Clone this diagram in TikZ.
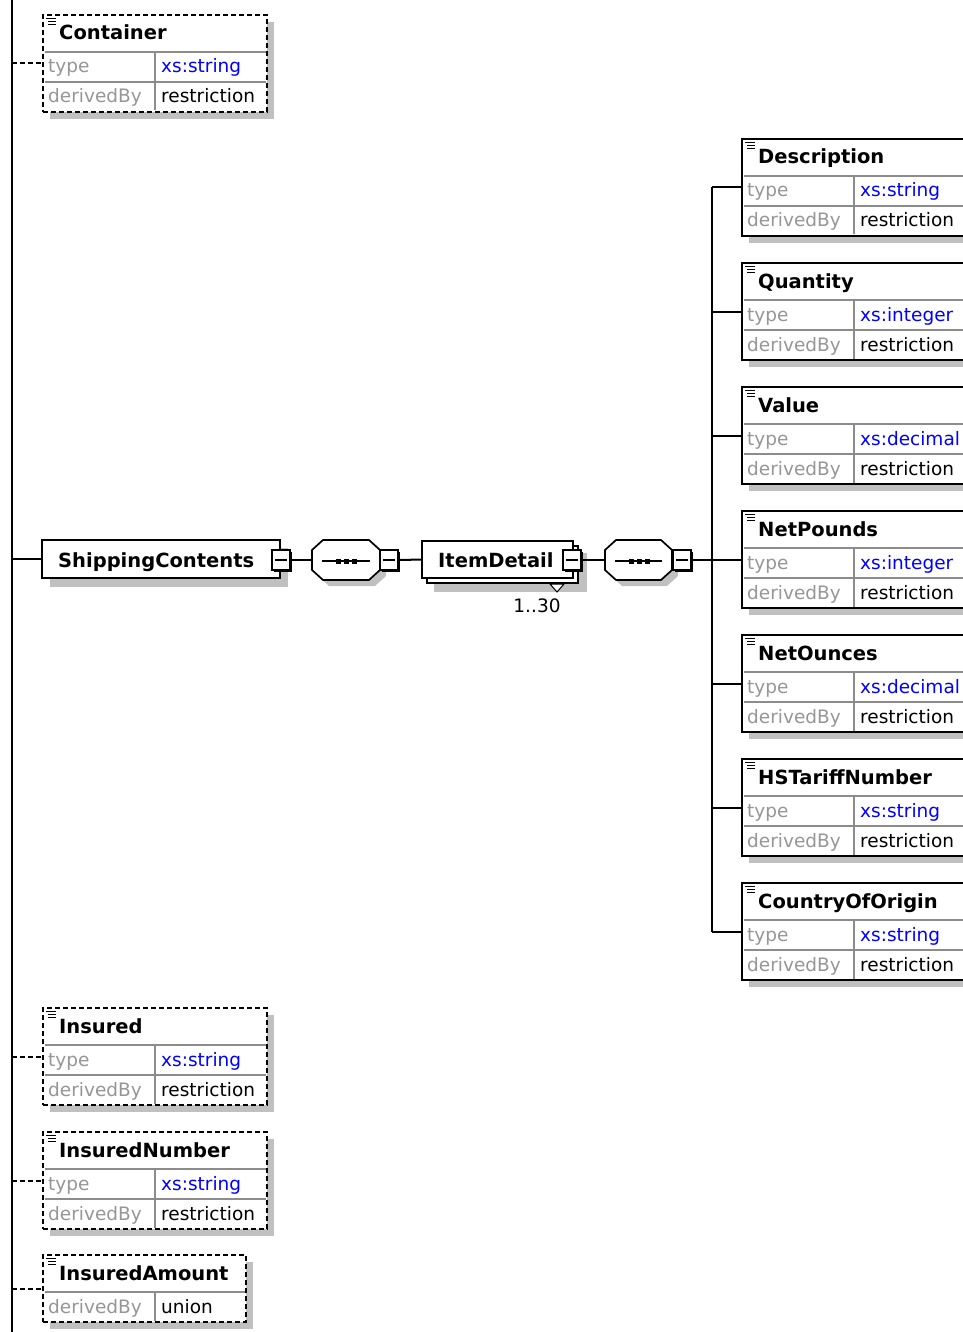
\documentclass[tikz,border=0pt]{standalone}
\usepackage{fontspec}
\setmainfont{DejaVu Sans}
\definecolor{shd}{RGB}{192,192,192}
\definecolor{gridc}{RGB}{140,140,140}
\definecolor{lbl}{RGB}{150,150,150}
\definecolor{typeblue}{RGB}{0,0,255}
\tikzset{
 conn/.style={line width=2pt, black},
 dconn/.style={line width=2pt, black, dash pattern=on 5pt off 3pt},
 bx/.style={draw=black, line width=2pt, fill=white, inner sep=0pt, outer sep=0pt},
 dbx/.style={bx, dash pattern=on 5pt off 3pt},
 gridl/.style={line width=1.5pt, gridc},
 ttl/.style={font=\bfseries\fontsize{19.5}{20}\selectfont, inner sep=0pt, anchor=base west},
 lab/.style={font=\fontsize{18.5}{19}\selectfont, inner sep=0pt, anchor=base west, text=lbl},
 val/.style={lab, text=black},
 tval/.style={lab, text=typeblue},
 icon/.style={line width=1pt, black},
 btnbox/.style={draw=black, line width=1.8pt, fill=white, inner sep=0pt, outer sep=0pt, minimum width=18pt, minimum height=20pt},
}
% three-row element: name, x, y, width, title, type, border style
\newcommand{\elemA}[7]{%
 \fill[shd] ({#2+7},{#3+7}) rectangle ({#2+7+#4},{#3+104});
 \node[#7, minimum width=#4pt, minimum height=97pt, anchor=north west] (#1) at (#2,#3) {};
 \draw[gridl] ({#2+1.5},{#3+37}) -- ({#2+#4-1.5},{#3+37});
 \draw[gridl] ({#2+1.5},{#3+67}) -- ({#2+#4-1.5},{#3+67});
 \draw[gridl] ({#2+112},{#3+37}) -- ({#2+112},{#3+95.5});
 \draw[icon] ({#2+3},{#3+3.5}) -- ({#2+13},{#3+3.5});
 \draw[icon] ({#2+5},{#3+6.5}) -- ({#2+13},{#3+6.5});
 \draw[icon] ({#2+5},{#3+9.5}) -- ({#2+13},{#3+9.5});
 \node[ttl] (#1-t) at ({#2+16},{#3+25}) {#5};
 \node[lab] (#1-k1) at ({#2+5},{#3+58}) {type};
 \node[tval] (#1-v1) at ({#2+118},{#3+58}) {#6};
 \node[lab] (#1-k2) at ({#2+5},{#3+88}) {derivedBy};
 \node[val] (#1-v2) at ({#2+118},{#3+88}) {restriction};
}
% two-row element: name, x, y, width, title, derivation, border style
\newcommand{\elemB}[7]{%
 \fill[shd] ({#2+7},{#3+7}) rectangle ({#2+7+#4},{#3+74});
 \node[#7, minimum width=#4pt, minimum height=67pt, anchor=north west] (#1) at (#2,#3) {};
 \draw[gridl] ({#2+1.5},{#3+37}) -- ({#2+#4-1.5},{#3+37});
 \draw[gridl] ({#2+112},{#3+37}) -- ({#2+112},{#3+65.5});
 \draw[icon] ({#2+3},{#3+3.5}) -- ({#2+13},{#3+3.5});
 \draw[icon] ({#2+5},{#3+6.5}) -- ({#2+13},{#3+6.5});
 \draw[icon] ({#2+5},{#3+9.5}) -- ({#2+13},{#3+9.5});
 \node[ttl] (#1-t) at ({#2+16},{#3+25}) {#5};
 \node[lab] (#1-k1) at ({#2+5},{#3+58}) {derivedBy};
 \node[val] (#1-v1) at ({#2+118},{#3+58}) {#6};
}
% minus button: name, cx, cy
\newcommand{\minusbtn}[3]{%
 \fill[black] ({#2-7},{#3-8}) rectangle ({#2+11},{#3+12});
 \node[btnbox] (#1) at (#2,#3) {};
 \draw[line width=1.6pt] ({#2-6},#3) -- ({#2+6},#3);
}
% sequence compositor: name, x-left, width
\newcommand{\seqicon}[3]{%
 \fill[shd] ({#2+6},{556}) -- ({#2+17},546) -- ({#2+#3-5},546) -- ({#2+#3+6},556) -- ({#2+#3+6},576) -- ({#2+#3-5},586) -- ({#2+17},586) -- ({#2+6},576) -- cycle;
 \node[inner sep=0pt, outer sep=0pt, minimum width=#3pt, minimum height=40pt, anchor=west] (#1) at (#2,560) {};
 \filldraw[fill=white, draw=black, line width=1.7pt] (#2,550) -- ({#2+11},540) -- ({#2+#3-11},540) -- ({#2+#3},550) -- ({#2+#3},570) -- ({#2+#3-11},580) -- ({#2+11},580) -- (#2,570) -- cycle;
 \draw[line width=1.7pt] ({#2+10},561) -- ({#2+#3-10},561);
 \fill ({#2+24},558.5) rectangle ({#2+28.5},563.5);
 \fill ({#2+32},558.5) rectangle ({#2+36.5},563.5);
 \fill ({#2+40},558.5) rectangle ({#2+44.5},563.5);
}
\begin{document}
\begin{tikzpicture}[x=1pt, y=-1pt]
\useasboundingbox (0,0) rectangle (962,1332);
\fill[white] (0,0) rectangle (962,1332);

% main left bar
\coordinate (bartop) at (12,0);
\coordinate (barbot) at (12,1332);
\draw[conn] (bartop) -- (barbot);

% left elements
\elemA{container}{43}{15}{224}{Container}{xs:string}{dbx}
\elemA{insured}{43}{1008}{224}{Insured}{xs:string}{dbx}
\elemA{insnum}{43}{1132}{224}{InsuredNumber}{xs:string}{dbx}
\elemB{insamt}{43}{1255}{203}{InsuredAmount}{union}{dbx}

\coordinate (b-container) at (12,63.5);
\coordinate (b-insured) at (12,1056.5);
\coordinate (b-insnum) at (12,1180.5);
\coordinate (b-insamt) at (12,1288.5);
\draw[dconn] (b-container) -- (container.west);
\draw[dconn] (b-insured) -- (insured.west);
\draw[dconn] (b-insnum) -- (insnum.west);
\draw[dconn] (b-insamt) -- (insamt.west);

% ShippingContents
\fill[shd] (50,548) rectangle (288,587);
\node[bx, minimum width=238pt, minimum height=38pt, anchor=north west] (sc) at (42,540) {};
\node[ttl] (sc-t) at (58,567) {ShippingContents};
\coordinate (b-sc) at (12,559);
\draw[conn] (b-sc) -- (sc.west);
\minusbtn{scbtn}{281}{560}

% first sequence
\seqicon{seq1}{312}{68}
\minusbtn{seq1btn}{389}{560}
\draw[conn] (scbtn.east) ++(2,0) -- (seq1.west);

% ItemDetail
\fill[shd] (434,553) rectangle (587,592);
\node[bx, minimum width=151pt, minimum height=37pt, anchor=north west] (itemback) at (427,546) {};
\node[bx, minimum width=151pt, minimum height=37pt, anchor=north west] (item) at (422,541) {};
\node[ttl] (item-t) at (438,567) {ItemDetail};
\minusbtn{itembtn}{572}{560}
\filldraw[fill=white, draw=black, line width=1pt] (550,584) -- (564,584) -- (557,592) -- cycle;
\node[font=\fontsize{18.5}{19}\selectfont, inner sep=0pt] (mult) at (537,606) {1..30};
\draw[conn] (seq1btn.east) ++(2,0) -- (item.west);

% second sequence
\seqicon{seq2}{605}{67}
\minusbtn{seq2btn}{682}{560}
\draw[conn] (itembtn.east) ++(2,0) -- (seq2.west);

% right bar
\coordinate (rb-mid) at (712,560);
\draw[conn] (seq2btn.east) ++(2,0) -- (rb-mid);

\elemA{desc}{742}{139}{262}{Description}{xs:string}{bx}
\elemA{qty}{742}{263}{262}{Quantity}{xs:integer}{bx}
\elemA{value}{742}{387}{262}{Value}{xs:decimal}{bx}
\elemA{netp}{742}{511}{262}{NetPounds}{xs:integer}{bx}
\elemA{neto}{742}{635}{262}{NetOunces}{xs:decimal}{bx}
\elemA{hst}{742}{759}{262}{HSTariffNumber}{xs:string}{bx}
\elemA{coo}{742}{883}{262}{CountryOfOrigin}{xs:string}{bx}

\coordinate (rb-desc) at (712,187.5);
\coordinate (rb-qty) at (712,311.5);
\coordinate (rb-value) at (712,435.5);
\coordinate (rb-netp) at (712,559.5);
\coordinate (rb-neto) at (712,683.5);
\coordinate (rb-hst) at (712,807.5);
\coordinate (rb-coo) at (712,931.5);
\draw[conn] (rb-desc) -- (rb-coo);
\draw[conn] (rb-desc) -- (desc.west);
\draw[conn] (rb-qty) -- (qty.west);
\draw[conn] (rb-value) -- (value.west);
\draw[conn] (rb-netp) -- (netp.west);
\draw[conn] (rb-neto) -- (neto.west);
\draw[conn] (rb-hst) -- (hst.west);
\draw[conn] (rb-coo) -- (coo.west);
\end{tikzpicture}
\end{document}
